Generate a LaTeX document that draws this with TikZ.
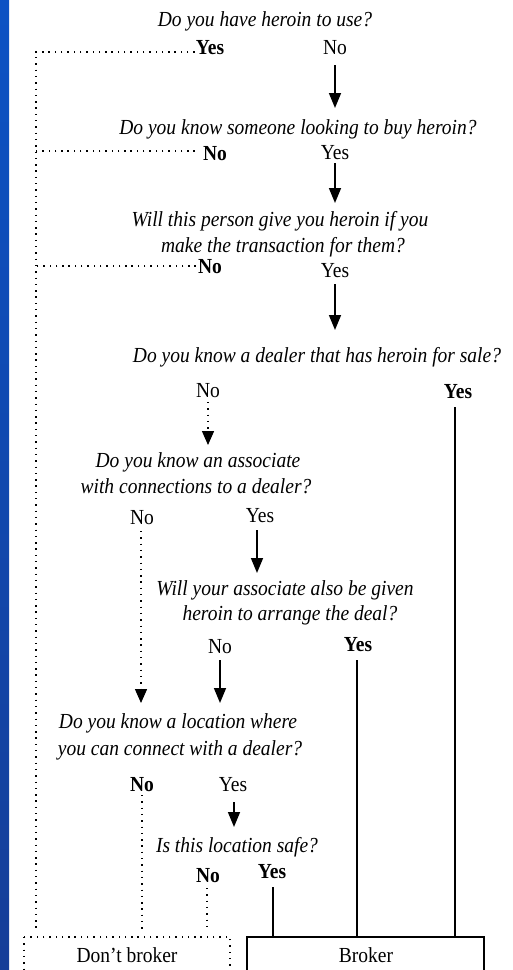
\documentclass[tikz,border=0pt]{standalone}
\usepackage{fontspec}
\usepackage{graphicx}
\setmainfont{Liberation Serif}
\usetikzlibrary{arrows.meta}
\definecolor{bluetop}{RGB}{12,82,196}
\definecolor{bluebot}{RGB}{22,62,152}
\newcommand{\tallt}[1]{\scalebox{1}[1.1]{#1}}
\tikzset{
  lbl/.style={inner sep=0pt, anchor=base, font=\fontsize{19.5}{23}\selectfont},
  qst/.style={lbl, font=\fontsize{19.5}{23}\selectfont\itshape},
  bld/.style={lbl, font=\fontsize{19.5}{23}\selectfont\bfseries},
  dotline/.style={line width=1.4pt, dash pattern=on 1.4pt off 4.9pt},
  solidline/.style={line width=1.6pt},
  arr/.style={solidline, -{Triangle[length=15pt,width=12pt]}},
  dotarr/.style={dotline, -{Triangle[length=14pt,width=12pt]}},
}
\begin{document}
\begin{tikzpicture}[x=1pt,y=-1pt]
\clip (0,0) rectangle (513,970);
\fill[white] (0,0) rectangle (513,970);
\shade[top color=bluetop, bottom color=bluebot] (0,0) rectangle (9,970);

% questions and answers
\node[qst] (q1) at (265,26) {\tallt{Do you have heroin to use?}};
\node[bld] (y1) at (210,54) {\tallt{Yes}};
\node[lbl] (n1) at (335,54) {\tallt{No}};
\node[qst] (q2) at (298,134) {\tallt{Do you know someone looking to buy heroin?}};
\node[bld] (n2) at (215,160) {\tallt{No}};
\node[lbl] (y2) at (335,159) {\tallt{Yes}};
\node[qst] (q3a) at (280,226) {\tallt{Will this person give you heroin if you}};
\node[qst] (q3b) at (283,252) {\tallt{make the transaction for them?}};
\node[bld] (n3) at (210,273) {\tallt{No}};
\node[lbl] (y3) at (335,277) {\tallt{Yes}};
\node[qst] (q4) at (317,362) {\tallt{Do you know a dealer that has heroin for sale?}};
\node[lbl] (n4) at (208,397) {\tallt{No}};
\node[bld] (y4) at (458,398) {\tallt{Yes}};
\node[qst] (q5a) at (198,467) {\tallt{Do you know an associate}};
\node[qst] (q5b) at (196,493) {\tallt{with connections to a dealer?}};
\node[lbl] (n5) at (142,524) {\tallt{No}};
\node[lbl] (y5) at (260,522) {\tallt{Yes}};
\node[qst] (q6a) at (285,595) {\tallt{Will your associate also be given}};
\node[qst] (q6b) at (290,620) {\tallt{heroin to arrange the deal?}};
\node[lbl] (n6) at (220,653) {\tallt{No}};
\node[bld] (y6) at (358,651) {\tallt{Yes}};
\node[qst] (q7a) at (178,728) {\tallt{Do you know a location where}};
\node[qst] (q7b) at (180,755) {\tallt{you can connect with a dealer?}};
\node[bld] (n7) at (142,791) {\tallt{No}};
\node[lbl] (y7) at (233,791) {\tallt{Yes}};
\node[qst] (q8) at (237,852) {\tallt{Is this location safe?}};
\node[bld] (n8) at (208,882) {\tallt{No}};
\node[bld] (y8) at (272,878) {\tallt{Yes}};

% outcome boxes
\coordinate (db1) at (24,937);
\coordinate (db2) at (230,990);
\coordinate (bk1) at (247,937);
\coordinate (bk2) at (484,990);
\draw[dotline] (db1) rectangle (db2);
\draw[solidline] (bk1) rectangle (bk2);
\node[lbl] (dont) at (127,962) {\tallt{Don’t broker}};
\node[lbl] (broker) at (366,962) {\tallt{Broker}};

% left dotted "don't broker" rail
\coordinate (L1) at (36,52);
\coordinate (L2) at (36,151);
\coordinate (L3) at (36,266);
\coordinate (Lb) at (36,932);
\draw[dotline] ([xshift=-1pt]y1.west |- L1) -- (L1) -- (Lb);
\draw[dotline] ([xshift=-8pt]n2.west |- L2) -- (L2);
\draw[dotline] ([xshift=-2pt]n3.west |- L3) -- (L3);

% arrows
\draw[arr] (n1 |- 0,65) -- (n1 |- 0,108);
\draw[arr] (y2 |- 0,163) -- (y2 |- 0,203);
\draw[arr] (y3 |- 0,284) -- (y3 |- 0,330);
\draw[dotarr] (n4 |- 0,402) -- (n4 |- 0,445);
\draw[arr] ([xshift=-3pt]y5.south |- 0,530) -- ([xshift=-3pt]y5.south |- 0,573);
\draw[dotarr] ([xshift=-1pt]n5.south |- 0,531) -- ([xshift=-1pt]n5.south |- 0,703);
\draw[arr] (n6 |- 0,660) -- (n6 |- 0,703);
\draw[arr] ([xshift=1pt]y7.south |- 0,802) -- ([xshift=1pt]y7.south |- 0,827);

% lines to outcomes
\draw[dotline] (n7 |- 0,795) -- (n7 |- 0,932);
\draw[dotline] ([xshift=-1pt]n8.south |- 0,888) -- ([xshift=-1pt]n8.south |- 0,932);
\draw[solidline] ([xshift=1pt]y8.south |- 0,887) -- ([xshift=1pt]y8.south |- bk1);
\draw[solidline] ([xshift=-1pt]y6.south |- 0,660) -- ([xshift=-1pt]y6.south |- bk1);
\draw[solidline] ([xshift=-3pt]y4.south |- 0,407) -- ([xshift=-3pt]y4.south |- bk1);
\end{tikzpicture}
\end{document}
